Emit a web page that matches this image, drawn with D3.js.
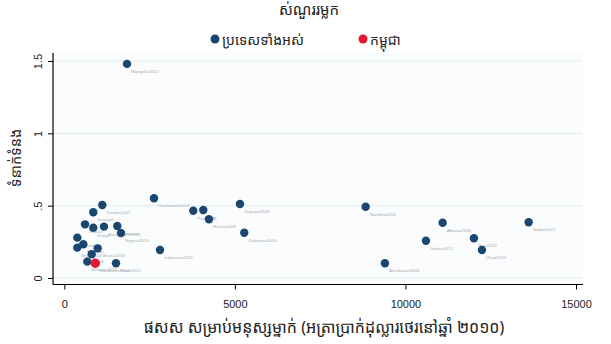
<!DOCTYPE html>
<html><head><meta charset="utf-8">
<script src="https://cdn.jsdelivr.net/npm/d3@7/dist/d3.min.js"></script>
<style>body{margin:0;background:#fff} svg{display:block}</style>
</head><body><svg id="c" width="611" height="344"></svg>
<script>
const titleText = "ស់ណួររម្លក";
const legendLabels = ["ប្រទេសទាំងអស់", "កម្ពុជា"];
const xTitle = "ផសស សម្រាប់មនុស្សម្នាក់ (អត្រាប្រាក់ដុល្លារថេរនៅឆ្នាំ ២០១០)";
const yTitle = "ទំនាក់ទំនង";
const xTicks = [0, 5000, 10000, 15000];
const yTicks = [0, 0.5, 1, 1.5];
const yTickLabels = ["0", ".5", "1", "1.5"];

const countryNames = ["Mongolia2012","Guatemala2014","Zambia2007","Senegal","Malawi","Kenya",
  "Bangladesh2011","Tanzania","Nigeria2013","Uganda","Rwanda","Niger2012","Ghana2008",
  "Mali","Ethiopia2011","Nepal2011","Indonesia2012","Peru2013","Iraq","Bolivia2008",
  "Guyana2009","Colombia2010","Namibia2013","Albania2008","Gabon2012","Jordan2012","Peru2012",
  "Chad2014","Azerbaijan2006"];
const gdp = [1838, 2629, 1114, 850, 607, 850, 1164, 1553, 1662, 381, 557, 381, 979, 803, 674, 1515, 2805,
  3781, 4074, 4241, 5150, 5276, 8834, 11091, 13612, 10601, 12008, 12243, 9399];
const corr = [1.480, 0.551, 0.505, 0.454, 0.371, 0.348, 0.355, 0.360, 0.311, 0.279, 0.233, 0.210, 0.205,
  0.164, 0.113, 0.102, 0.194, 0.465, 0.470, 0.406, 0.512, 0.313, 0.493, 0.382, 0.385, 0.258, 0.275,
  0.194, 0.102];
const cambodiaName = ["Cambodia2014"];
const cambodiaGdp = [909];
const cambodiaCorr = [0.102];

const navy = "#1a476f", red = "#e3172f";
const khmer = "'Noto Sans Khmer','Khmer OS','Noto Sans',sans-serif";
const svg = d3.select("#c");
const x = d3.scaleLinear().domain([0, 15000]).range([64.3, 576]);
const y = d3.scaleLinear().domain([0, 1.5]).range([278, 61]);
const L = 53, R = 583, T = 53, B = 284.5;

// plot region
svg.append("rect").attr("x", L).attr("y", T).attr("width", R - L).attr("height", B - T).attr("fill", "#fbfcfd");
svg.selectAll(".grid").data(yTicks).join("line")
  .attr("x1", L).attr("x2", R).attr("y1", d => y(d)).attr("y2", d => y(d))
  .attr("stroke", "#e6edf1").attr("stroke-width", 1.2);

// axes
const gx = svg.append("g").attr("transform", `translate(0,${B})`)
  .call(d3.axisBottom(x).tickValues(xTicks).tickSize(5).tickPadding(11).tickFormat(d3.format("d")));
gx.select(".domain").remove();
gx.selectAll("text").attr("font-family", "'Liberation Sans',Arial,sans-serif").attr("font-size", 11).attr("fill", "#222");
gx.selectAll(".tick line").attr("stroke", "#000");
svg.append("line").attr("x1", L).attr("x2", R).attr("y1", B).attr("y2", B).attr("stroke", "#000").attr("stroke-width", 1.2);

const gy = svg.append("g").attr("transform", `translate(${L},0)`)
  .call(d3.axisLeft(y).tickValues(yTicks).tickSize(5).tickFormat((d, i) => yTickLabels[i]));
gy.select(".domain").remove();
gy.selectAll(".tick line").attr("stroke", "#000");
gy.selectAll("text").attr("font-family", "'Liberation Sans',Arial,sans-serif").attr("font-size", 11).attr("fill", "#222")
  .attr("transform", "translate(-11,0) rotate(-90)").attr("x", 0).attr("dy", 0).attr("text-anchor", "middle");
svg.append("line").attr("x1", L).attr("x2", L).attr("y1", T).attr("y2", B).attr("stroke", "#000").attr("stroke-width", 1.2);

// labels
const all = countryNames.map((n, i) => ({n, g: gdp[i], c: corr[i]}));
svg.selectAll(".lab").data(all.concat([{n: cambodiaName[0], g: cambodiaGdp[0], c: cambodiaCorr[0]}])).join("text")
  .attr("x", d => x(d.g) + 4).attr("y", d => y(d.c) + 9)
  .attr("font-family", "'Liberation Sans',Arial,sans-serif").attr("font-size", 4.4).attr("fill", "#a7adb2")
  .text(d => d.n);

// points
svg.selectAll(".pt").data(all).join("circle")
  .attr("cx", d => x(d.g)).attr("cy", d => y(d.c)).attr("r", 4.2).attr("fill", navy);
svg.selectAll(".kh").data(cambodiaGdp).join("circle")
  .attr("cx", d => x(d)).attr("cy", (d, i) => y(cambodiaCorr[i])).attr("r", 4.7).attr("fill", red);

// titles
svg.append("text").attr("x", 309).attr("y", 15).attr("text-anchor", "middle")
  .attr("font-family", khmer).attr("font-size", 15).attr("fill", "#222").text(titleText);
const leg = [{c: navy, t: legendLabels[0], x: 215}, {c: red, t: legendLabels[1], x: 363}];
leg.forEach(l => {
  svg.append("circle").attr("cx", l.x).attr("cy", 39).attr("r", 4.5).attr("fill", l.c);
  svg.append("text").attr("x", l.x + 7).attr("y", 45).attr("font-family", khmer).attr("font-size", 14).attr("fill", "#222").text(l.t);
});
svg.append("text").attr("x", 324).attr("y", 333).attr("text-anchor", "middle")
  .attr("font-family", khmer).attr("font-size", 16).attr("fill", "#222").text(xTitle);
svg.append("text").attr("transform", "translate(21,158) rotate(-90)").attr("text-anchor", "middle")
  .attr("font-family", khmer).attr("font-size", 14.5).attr("fill", "#222").text(yTitle);
</script></body></html>
